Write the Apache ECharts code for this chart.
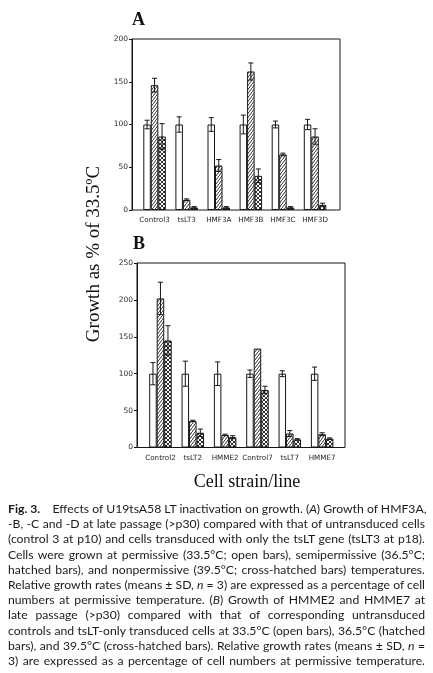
<!DOCTYPE html>
<html>
<head>
<meta charset="utf-8">
<script src="https://cdn.jsdelivr.net/npm/echarts@6/dist/echarts.min.js"></script>
<style>
  html, body { margin: 0; padding: 0; background: #fff; }
  #chart { position: absolute; left: 0; top: 0; width: 433px; height: 673px; }
  #caption {
    position: absolute; left: 8px; top: 501px; width: 417px;
    font-family: Lato, "Noto Sans", sans-serif; font-size: 12.2px; line-height: 15.2px;
    color: #1e1a1b;
  }
  #caption div { white-space: nowrap; text-align: justify; text-align-last: justify; }
</style>
</head>
<body>
<div id="chart"></div>
<div id="caption">
  <div><b>Fig. 3.</b>&emsp;&nbsp;Effects of U19tsA58 LT inactivation on growth. (<i>A</i>) Growth of HMF3A,</div>
  <div>-B, -C and -D at late passage (&gt;p30) compared with that of untransduced cells</div>
  <div>(control 3 at p10) and cells transduced with only the tsLT gene (tsLT3 at p18).</div>
  <div>Cells were grown at permissive (33.5°C; open bars), semipermissive (36.5°C;</div>
  <div>hatched bars), and nonpermissive (39.5°C; cross-hatched bars) temperatures.</div>
  <div>Relative growth rates (means ± SD, <i>n</i> = 3) are expressed as a percentage of cell</div>
  <div>numbers at permissive temperature. (<i>B</i>) Growth of HMME2 and HMME7 at</div>
  <div>late passage (&gt;p30) compared with that of corresponding untransduced</div>
  <div>controls and tsLT-only transduced cells at 33.5°C (open bars), 36.5°C (hatched</div>
  <div>bars), and 39.5°C (cross-hatched bars). Relative growth rates (means ± SD, <i>n</i> =</div>
  <div>3) are expressed as a percentage of cell numbers at permissive temperature.</div>
</div>
<script>
// panel A: HMF3 lines
const categoriesA = ['Control3', 'tsLT3', 'HMF3A', 'HMF3B', 'HMF3C', 'HMF3D'];
const openA = [100, 100, 100, 100, 100, 100];
const openErrA = [5, 9, 8, 11, 4, 6];
const hatchedA = [146, 12, 52, 162, 65, 86];
const hatchedErrA = [8, 1, 7, 10, 1.5, 9];
const crossA = [86, 3, 3, 40, 3, 6];
const crossErrA = [15, 1, 1, 8, 1, 2];
const ticksA = [0, 50, 100, 150, 200];

// panel B: HMME lines
const categoriesB = ['Control2', 'tsLT2', 'HMME2', 'Control7', 'tsLT7', 'HMME7'];
const openB = [100, 100, 100, 100, 100, 100];
const openErrB = [15, 17, 16, 5, 4, 9];
const hatchedB = [202, 36, 17, 134, 19, 18];
const hatchedErrB = [22, 1, 1, 0, 4, 2];
const crossB = [145, 20, 14, 78, 11, 12];
const crossErrB = [20, 5, 2, 5, 1, 1];
const ticksB = [0, 50, 100, 150, 200, 250];

const INK = '#161616';
const BAR_W = 7.5;

// hatch tiles drawn on a small canvas
function hatchPattern(cross) {
    let w = cross ? 4 : 3, h = 4;
    let c = document.createElement('canvas');
    c.width = w; c.height = h;
    let ctx = c.getContext('2d');
    ctx.fillStyle = '#fff';
    ctx.fillRect(0, 0, w, h);
    ctx.strokeStyle = INK;
    ctx.lineWidth = 0.9;
    ctx.beginPath();
    ctx.moveTo(-w, 2 * h); ctx.lineTo(2 * w, -h);
    if (cross) {
        ctx.moveTo(-w, -h); ctx.lineTo(2 * w, 2 * h);
    }
    ctx.stroke();
    return {image: c, repeat: 'repeat'};
}

function errorRenderer(offset) {
    return function (params, api) {
        let e = api.value(2);
        if (!e) {
            return null;
        }
        let v = api.value(1);
        let top = api.coord([api.value(0), v + e]);
        let bot = api.coord([api.value(0), v - e]);
        let x = top[0] + offset;
        let style = {stroke: INK, lineWidth: 1};
        return {
            type: 'group',
            children: [
                {type: 'line', shape: {x1: x, y1: top[1], x2: x, y2: bot[1]}, style: style},
                {type: 'line', shape: {x1: x - 2.5, y1: top[1], x2: x + 2.5, y2: top[1]}, style: style},
                {type: 'line', shape: {x1: x - 2.5, y1: bot[1], x2: x + 2.5, y2: bot[1]}, style: style}
            ]
        };
    };
}

function panelSeries(axisIdx, groups) {
    let out = [];
    groups.forEach(function (g) {
        out.push({
            type: 'bar', xAxisIndex: axisIdx, yAxisIndex: axisIdx,
            data: g.values, barWidth: BAR_W, barGap: '0%',
            itemStyle: {color: g.fill, borderColor: INK, borderWidth: 1},
            silent: true, animation: false
        });
    });
    groups.forEach(function (g, k) {
        out.push({
            type: 'custom', xAxisIndex: axisIdx, yAxisIndex: axisIdx,
            renderItem: errorRenderer((k - 1) * BAR_W),
            data: g.values.map(function (v, i) { return [i, v, g.errs[i]]; }),
            z: 5, silent: true, animation: false
        });
    });
    return out;
}

function frameY(idx, ticks) {
    return {
        gridIndex: idx, type: 'value', min: 0, max: ticks[ticks.length - 1], interval: 50,
        axisLine: {show: true, lineStyle: {color: INK, width: 1}},
        axisTick: {show: true, length: 3, lineStyle: {color: INK}},
        axisLabel: {margin: 4, fontFamily: 'DejaVu Sans', fontSize: 7.5, color: '#2a2a2a'},
        splitLine: {show: false}
    };
}

function barsX(idx, cats) {
    return {
        gridIndex: idx, type: 'category', data: cats,
        axisLine: {show: false}, axisTick: {show: false},
        axisLabel: {margin: 7, fontFamily: 'DejaVu Sans', fontSize: 7.2, color: '#1e1e1e', interval: 0}
    };
}

let chart = echarts.init(document.getElementById('chart'), null, {renderer: 'canvas'});

let hatched = hatchPattern(false);
let crossed = hatchPattern(true);

let frameStyle = {show: true, borderColor: INK, borderWidth: 1, backgroundColor: 'transparent'};

chart.setOption({
    backgroundColor: '#fff',
    animation: false,
    grid: [
        Object.assign({left: 132, top: 39, width: 208, height: 171}, frameStyle),
        {left: 138.5, top: 39, width: 192.6, height: 171},
        Object.assign({left: 137, top: 263, width: 208, height: 184.5}, frameStyle),
        {left: 144.3, top: 263, width: 194, height: 184.5}
    ],
    xAxis: [
        {gridIndex: 0, type: 'value', min: 0, max: 1, show: false},
        barsX(1, categoriesA),
        {gridIndex: 2, type: 'value', min: 0, max: 1, show: false},
        barsX(3, categoriesB)
    ],
    yAxis: [
        frameY(0, ticksA),
        {gridIndex: 1, type: 'value', min: 0, max: 200, show: false},
        frameY(2, ticksB),
        {gridIndex: 3, type: 'value', min: 0, max: 250, show: false}
    ],
    series: [].concat(
        panelSeries(1, [
            {values: openA, errs: openErrA, fill: '#fff'},
            {values: hatchedA, errs: hatchedErrA, fill: hatched},
            {values: crossA, errs: crossErrA, fill: crossed}
        ]),
        panelSeries(3, [
            {values: openB, errs: openErrB, fill: '#fff'},
            {values: hatchedB, errs: hatchedErrB, fill: hatched},
            {values: crossB, errs: crossErrB, fill: crossed}
        ])
    ),
    graphic: [
        {type: 'text', x: 132, y: 20, style: {text: 'A', font: 'bold 18px "Liberation Serif"', fill: '#111', verticalAlign: 'middle'}},
        {type: 'text', x: 133, y: 244.5, style: {text: 'B', font: 'bold 18px "Liberation Serif"', fill: '#111', verticalAlign: 'middle'}},
        {type: 'text', x: 94, y: 254, rotation: Math.PI / 2,
            style: {text: 'Growth as % of 33.5ºC', font: '19px "Liberation Serif"', fill: '#111', align: 'center', verticalAlign: 'middle'}},
        {type: 'text', x: 247, y: 482,
            style: {text: 'Cell strain/line', font: '18px "Liberation Serif"', fill: '#111', align: 'center', verticalAlign: 'middle'}}
    ]
});
</script>
</body>
</html>
